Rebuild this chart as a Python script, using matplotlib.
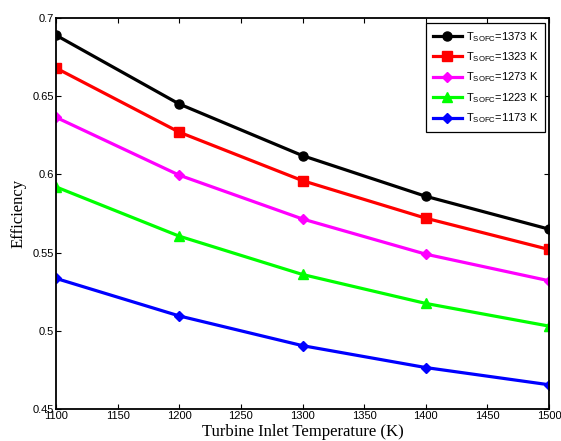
import numpy as np
import matplotlib
matplotlib.use("Agg")
import matplotlib.pyplot as plt

plt.rcParams['font.family'] = 'Liberation Sans'
plt.rcParams['mathtext.fontset'] = 'custom'
plt.rcParams['mathtext.rm'] = 'Liberation Sans'
plt.rcParams['mathtext.it'] = 'Liberation Sans'

tit = [1100, 1200, 1300, 1400, 1500]
eff_1373 = [0.689, 0.645, 0.612, 0.586, 0.565]
eff_1323 = [0.668, 0.627, 0.596, 0.572, 0.552]
eff_1273 = [0.6365, 0.5995, 0.5715, 0.549, 0.532]
eff_1223 = [0.592, 0.5605, 0.536, 0.5175, 0.503]
eff_1173 = [0.5335, 0.5095, 0.4905, 0.4765, 0.4655]

series = [
    (eff_1373, '#000000', 'o', 1373),
    (eff_1323, '#ff0000', 's', 1323),
    (eff_1273, '#ff00ff', 'D', 1273),
    (eff_1223, '#00ff00', '^', 1223),
    (eff_1173, '#0000ff', 'D', 1173),
]

fig = plt.figure(figsize=(5.61, 4.41), dpi=100)
ax = fig.add_axes([56/561, 1 - 409/441, 493/561, 391/441])

for y, c, m, t in series:
    ms = 5.5 if m == 'D' else 6.5
    ax.plot(tit, y, color=c, marker=m, lw=2.3, ms=ms,
            label=r'T$_{\mathrm{SOFC}}$=%d K' % t)

ax.set_xlim(1100, 1500)
ax.set_ylim(0.45, 0.7)
ax.set_xticks(np.arange(1100, 1501, 50))
ax.set_yticks([0.45, 0.5, 0.55, 0.6, 0.65, 0.7])
ax.set_yticklabels(['0.45', '0.5', '0.55', '0.6', '0.65', '0.7'])
ax.tick_params(direction='in', top=True, right=True, labelsize=8,
               length=3.5, width=0.8, pad=1.5)
for s in ax.spines.values():
    s.set_linewidth(1.3)

ax.set_xlabel('Turbine Inlet Temperature (K)', fontfamily='Liberation Serif',
              fontsize=12, labelpad=2)
ax.set_ylabel('Efficiency', fontfamily='Liberation Serif', fontsize=12, labelpad=4)

leg = ax.legend(loc='upper right', bbox_to_anchor=(0.992, 0.987), borderaxespad=0,
                fontsize=8, fancybox=False, edgecolor='k', framealpha=1,
                handlelength=2.6, handletextpad=0.4, labelspacing=0.6,
                borderpad=0.6)
leg.get_frame().set_linewidth(0.9)

fig.savefig('out.png', dpi=100)
